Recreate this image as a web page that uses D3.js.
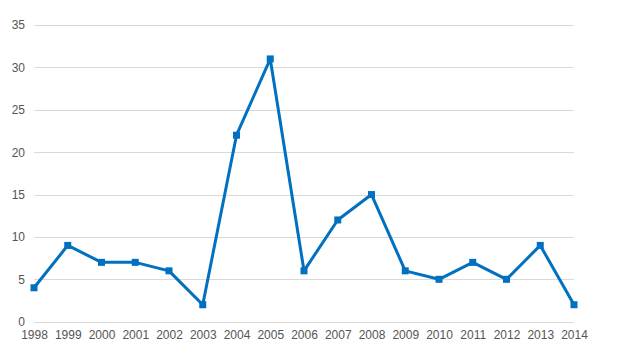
<!DOCTYPE html>
<html>
<head>
<meta charset="utf-8">
<script src="https://cdn.jsdelivr.net/npm/d3@7"></script>
<style>
  body { margin: 0; background: #fff; }
  text { font-family: "Liberation Sans", Arial, sans-serif; font-size: 12px; fill: #555; }
</style>
</head>
<body>
<svg id="chart" width="620" height="356"></svg>
<script>
const years = ["1998","1999","2000","2001","2002","2003","2004","2005","2006","2007","2008","2009","2010","2011","2012","2013","2014"];
const counts = [4, 9, 7, 7, 6, 2, 22, 31, 6, 12, 15, 6, 5, 7, 5, 9, 2];
const yTicks = [0, 5, 10, 15, 20, 25, 30, 35];

const svg = d3.select('#chart');
const plotLeft = 34, plotRight = 574, plotTop = 25, plotBottom = 321.7;

const x = d3.scalePoint().domain(years).range([plotLeft, plotRight]);
const y = d3.scaleLinear().domain([0, 35]).range([plotBottom, plotTop]);

// grid
svg.append('g')
  .selectAll('line')
  .data(yTicks)
  .enter()
  .append('line')
  .attr('x1', plotLeft)
  .attr('x2', plotRight)
  .attr('y1', d => Math.round(y(d)) + 0.5)
  .attr('y2', d => Math.round(y(d)) + 0.5)
  .attr('stroke', '#d9d9d9')
  .attr('stroke-width', 1);

// y axis labels
const yAxis = d3.axisLeft(y).tickValues(yTicks).tickSize(0).tickPadding(0);
svg.append('g')
  .attr('transform', 'translate(25,0)')
  .call(yAxis)
  .call(g => g.select('.domain').remove());

// x axis labels
const xAxis = d3.axisBottom(x).tickSize(0).tickPadding(0);
svg.append('g')
  .attr('transform', 'translate(0,330)')
  .call(xAxis)
  .call(g => g.select('.domain').remove());

svg.selectAll('.tick text').attr('fill', '#555').style('font-size', '12px')
  .style('font-family', '"Liberation Sans", Arial, sans-serif');

const line = d3.line()
  .x((d, i) => x(years[i]))
  .y(d => y(d));

svg.append('path')
  .datum(counts)
  .attr('d', line)
  .attr('fill', 'none')
  .attr('stroke', '#0070c0')
  .attr('stroke-width', 3)
  .attr('stroke-linejoin', 'round');

svg.append('g')
  .selectAll('rect')
  .data(counts)
  .enter()
  .append('rect')
  .attr('x', (d, i) => x(years[i]) - 3.5)
  .attr('y', d => y(d) - 3.5)
  .attr('width', 7)
  .attr('height', 7)
  .attr('fill', '#0070c0');
</script>
</body>
</html>
